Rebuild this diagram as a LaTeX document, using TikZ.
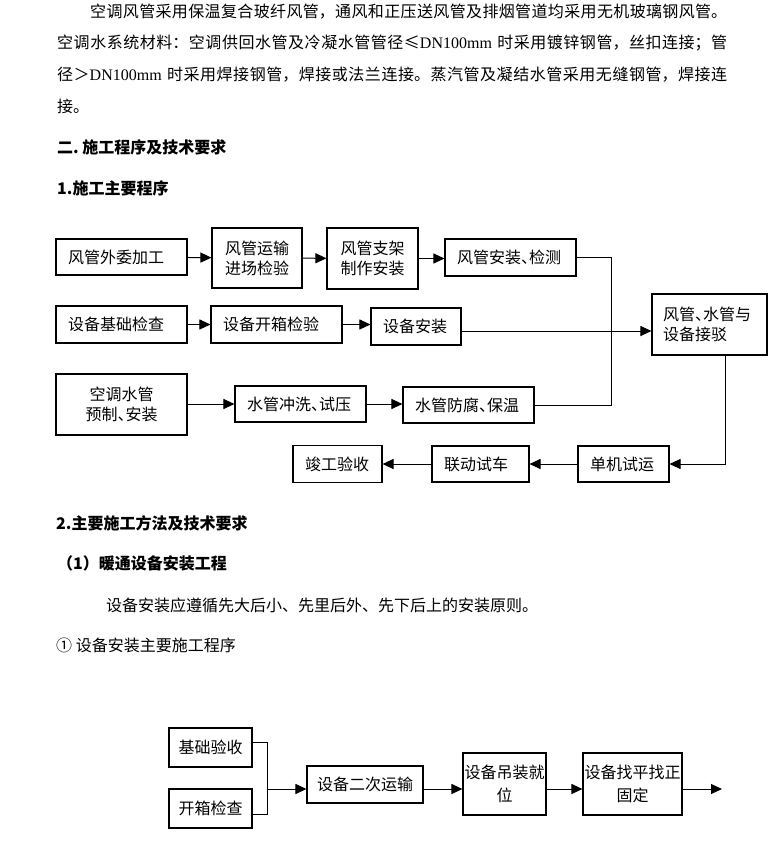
\documentclass[tikz,border=0pt]{standalone}
\usepackage{fontspec}
\setmainfont{Noto Sans CJK SC}
\newfontfamily\lat{Liberation Serif}
\usetikzlibrary{arrows.meta}
\newcommand\fs{\fontsize{16pt}{20pt}\selectfont}
\newcommand\fsb{\fontsize{16pt}{23pt}\selectfont}
\newcommand\jline[1]{\XeTeXlinebreaklocale "zh"\XeTeXlinebreakskip=0pt plus 1fil\relax\parfillskip=0pt\parindent=0pt\tolerance=10000\relax #1\par}
\newcommand\hd{\hbox to 0.5em{、\hss}}
\tikzset{
  bx/.style={draw, line width=1.1pt, inner sep=0pt, align=center, font=\fs},
  bxl/.style={draw, line width=1.1pt, inner ysep=0pt, inner xsep=12pt, align=left, text width=#1, font=\fs},
  ln/.style={line width=1pt},
  arr/.style={line width=1pt, -{Triangle[length=11pt,width=10pt]}},
  txt/.style={anchor=west, inner sep=0pt, font=\fs},
  hdg/.style={anchor=west, inner sep=0pt, font=\fs\bfseries},
}
\begin{document}
\begin{tikzpicture}[x=1pt,y=-1pt]
\useasboundingbox (0,0) rectangle (779,848);
\fill[white] (0,0) rectangle (779,848);

% body text
\node[txt, text width=637pt] (p1) at (90,12) {\jline{空调风管采用保温复合玻纤风管，通风和正压送风管及排烟管道均采用无机玻璃钢风管。}};
\node[txt, text width=670pt] (p2) at (57,43) {\jline{空调水系统材料：空调供回水管及冷凝水管管径≤{\lat DN100mm} 时采用镀锌钢管，丝扣连接；管}};
\node[txt, text width=670pt] (p3) at (57,75) {\jline{径＞{\lat DN100mm} 时采用焊接钢管，焊接或法兰连接。蒸汽管及凝结水管采用无缝钢管，焊接连}};
\node[txt] (p4) at (57,106) {接。};

\node[hdg] (h1) at (57,147) {二.\ 施工程序及技术要求};
\node[hdg] (h2) at (57,188) {1.施工主要程序};

% flowchart 1
\node[bxl=107pt, minimum height=36pt] (A1) at (121.5,257) {风管外委加工};
\node[bx, minimum width=90pt, minimum height=60pt] (A2) at (257,258) {风管运输\\进场检验};
\node[bx, minimum width=91pt, minimum height=61pt] (A3) at (372.5,258.5) {风管支架\\制作安装};
\node[bxl=107pt, minimum height=37pt] (A4) at (510.5,257.5) {风管安装\hd 检测};

\node[bxl=107pt, minimum height=37pt] (B1) at (121.5,324.5) {设备基础检查};
\node[bxl=107pt, minimum height=37pt] (B2) at (276.5,324.5) {设备开箱检验};
\node[bxl=66pt, minimum height=37pt] (B3) at (416,326.5) {设备安装};
\node[bxl=93pt, inner xsep=11pt, minimum height=61pt] (D) at (709.5,324.5) {风管\hd 水管与\\设备接驳};

\node[bx, minimum width=131pt, minimum height=61pt] (C1) at (121.5,404.5) {空调水管\\预制\hd 安装};
\node[bxl=107pt, minimum height=36pt] (C2) at (300.5,404) {水管冲洗\hd 试压};
\node[bxl=107pt, minimum height=36pt] (C3) at (468.5,405) {水管防腐\hd 保温};

\node[bxl=67pt, minimum height=36pt] (E1) at (623.5,464) {单机试运};
\node[bxl=73pt, minimum height=36pt] (E2) at (480.5,464) {联动试车};
\node[bxl=65pt, minimum height=37pt] (E3) at (337.5,464) {竣工验收};

\draw[arr] (A1) -- (A2);
\draw[arr] (A2) -- (A3);
\draw[arr] (A3.east) -- (A3.east -| A4.west);
\coordinate (j2) at (611,405);
\draw[ln] (A4.east) -| (j2) -- (C3.east);
\draw[arr] (B1) -- (B2);
\draw[arr] (B2.east) -- (B2.east -| B3.west);
\draw[arr] ([yshift=-4.5pt]B3.east) -- ([yshift=-4.5pt]B3.east -| D.west);
\draw[arr] ([xshift=15.5pt]D.south) |- (E1.east);
\draw[arr] (E1) -- (E2);
\draw[arr] (E2) -- (E3);
\draw[arr] (C1.east |- C2.east) -- (C2.west);
\draw[arr] (C2.east) -- (C2.east -| C3.west);

% section 2
\node[hdg] (h3) at (56,523) {2.主要施工方法及技术要求};
\node[hdg] (h4) at (57,563) {（1）暖通设备安装工程};
\node[txt] (t1) at (106,605) {设备安装应遵循先大后小、先里后外、先下后上的安装原则。};
\node[txt] (t2) at (56,645) {①\ 设备安装主要施工程序};

% flowchart 2
\node[bx, minimum width=83pt, minimum height=39pt] (F1) at (210.5,747.5) {基础验收};
\node[bx, minimum width=83pt, minimum height=39pt] (F2) at (210.5,808.5) {开箱检查};
\node[bx, minimum width=116pt, minimum height=37pt] (F3) at (365,784.5) {设备二次运输};
\node[bx, font=\fsb, minimum width=83pt, minimum height=62pt] (F4) at (504.5,784) {设备吊装就\\位};
\node[bx, font=\fsb, minimum width=99pt, minimum height=62pt] (F5) at (632.5,784) {设备找平找正\\固定};

\coordinate (m) at (267,789);
\coordinate (fin) at (722,789);
\draw[ln] ([yshift=5.5pt]F1.east) -| (m);
\draw[ln] ([yshift=-5.5pt]F2.east) -| (m);
\draw[arr] (m) -- (m -| F3.west);
\draw[arr] ([yshift=-4.5pt]F3.east) -- ([yshift=-4.5pt]F3.east -| F4.west);
\draw[arr] ([yshift=-5pt]F4.east) -- ([yshift=-5pt]F4.east -| F5.west);
\draw[arr] ([yshift=-5pt]F5.east) -- (fin);
\end{tikzpicture}
\end{document}
